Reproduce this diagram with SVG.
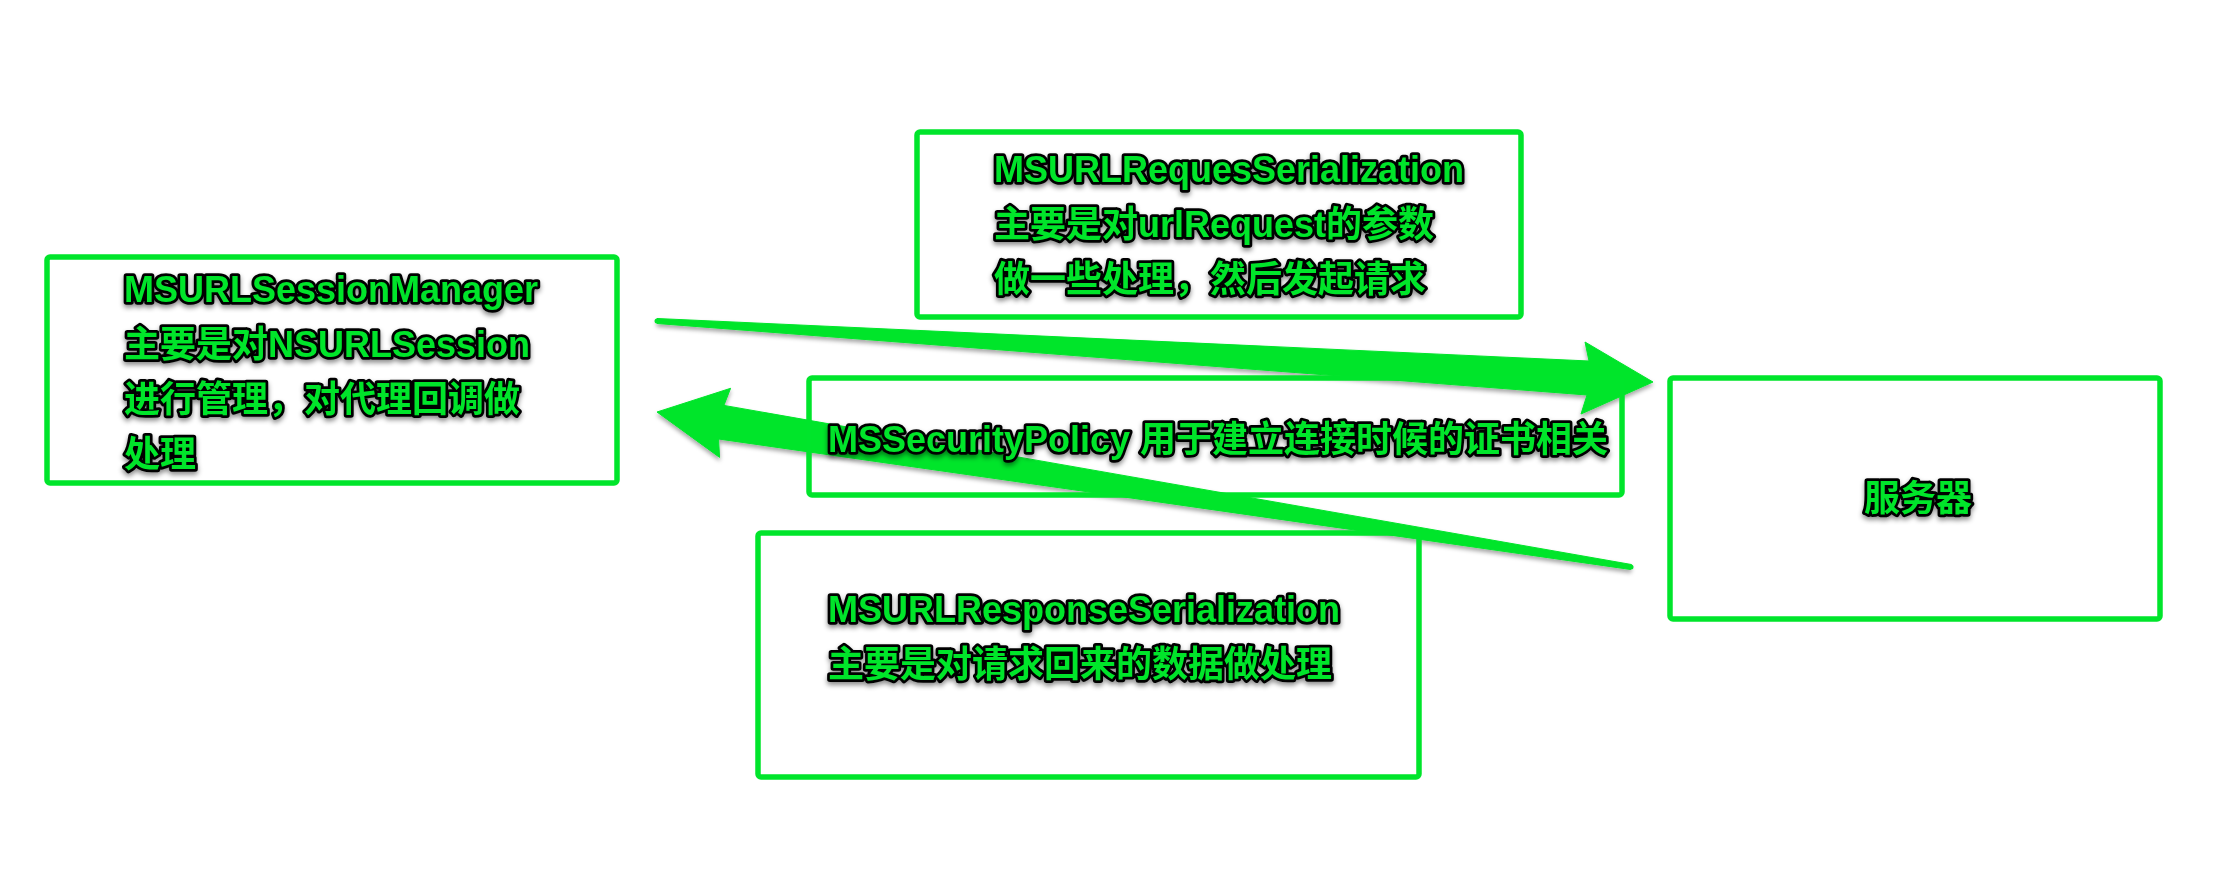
<svg xmlns="http://www.w3.org/2000/svg" width="2216" height="886" viewBox="0 0 2216 886">
  <defs>
    <filter id="shadow" x="-10%" y="-30%" width="120%" height="170%">
      <feDropShadow dx="0" dy="3" stdDeviation="2.5" flood-color="#000" flood-opacity="0.45"/>
    </filter>
    <filter id="ashadow" x="-5%" y="-50%" width="110%" height="200%">
      <feDropShadow dx="0" dy="3" stdDeviation="2" flood-color="#000" flood-opacity="0.35"/>
    </filter>
  </defs>
  <style>
    .box { fill: none; stroke: #00e52b; stroke-width: 5.5; stroke-linejoin: round; }
    .lbl { font-family: "Liberation Sans", "Noto Sans CJK SC", sans-serif; font-weight: bold; font-size: 36px; fill: #00e52b; stroke: #000; stroke-width: 5.5; stroke-linejoin: round; paint-order: stroke fill; filter: url(#shadow); }
    .arrow { fill: #00e52b; stroke: #00e52b; stroke-width: 1; stroke-linejoin: round; filter: url(#ashadow); }
  </style>
  <rect width="2216" height="886" fill="#ffffff"/>

  <g id="connectors">
    <g id="arrow-manager-to-server">
      <polygon class="arrow" points="1653,382 1581,414 1587,395 657,323.5 657,318.5 1589,361 1585,342"/>
      <circle cx="657" cy="321" r="2.5" fill="#00e52b"/>
    </g>
    <g id="arrow-server-to-manager">
      <polygon class="arrow" points="657,412 719.6,457.4 718.5,439 1630.6,569.5 1631.4,564.5 723.9,405.4 730.6,388.3"/>
      <circle cx="1631" cy="567" r="2.5" fill="#00e52b"/>
    </g>
  </g>

  <g id="session-manager">
    <rect class="box" x="47" y="257" width="570" height="226" rx="3"/>
    <text class="lbl" x="124" y="302">MSURLSessionManager</text>
    <text class="lbl" x="124" y="357">主要是对NSURLSession</text>
    <text class="lbl" x="124" y="412">进行管理，对代理回调做</text>
    <text class="lbl" x="124" y="467">处理</text>
  </g>

  <g id="request-serialization">
    <rect class="box" x="917" y="132" width="604" height="185" rx="3"/>
    <text class="lbl" x="994" y="182">MSURLRequesSerialization</text>
    <text class="lbl" x="994" y="237">主要是对urlRequest的参数</text>
    <text class="lbl" x="994" y="292">做一些处理，然后发起请求</text>
  </g>

  <g id="security-policy">
    <rect class="box" x="809" y="378" width="813" height="117" rx="3"/>
    <text class="lbl" x="828" y="452">MSSecurityPolicy 用于建立连接时候的证书相关</text>
  </g>

  <g id="response-serialization">
    <rect class="box" x="758" y="533" width="661" height="244" rx="3"/>
    <text class="lbl" x="828" y="622">MSURLResponseSerialization</text>
    <text class="lbl" x="828" y="677">主要是对请求回来的数据做处理</text>
  </g>

  <g id="server">
    <rect class="box" x="1670" y="378" width="490" height="241" rx="3"/>
    <text class="lbl" x="1918" y="511" text-anchor="middle">服务器</text>
  </g>
</svg>
